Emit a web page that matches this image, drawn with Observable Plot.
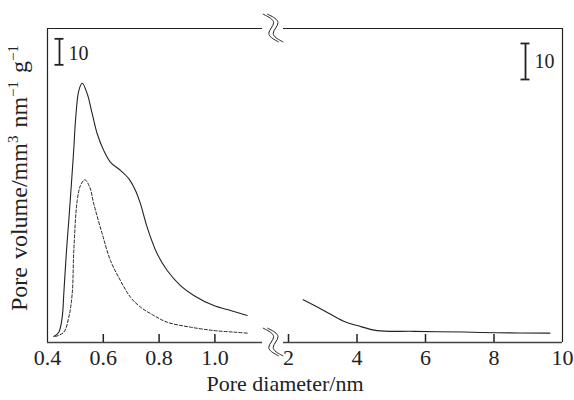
<!DOCTYPE html>
<html><head><meta charset="utf-8">
<script src="https://cdn.jsdelivr.net/npm/d3@7"></script>
<script src="https://cdn.jsdelivr.net/npm/@observablehq/plot@0.6"></script>
<style>
body{margin:0;background:#fff;}
#wrap{position:relative;width:574px;height:400px;font-family:"Liberation Serif","Times New Roman",serif;color:#222;overflow:hidden;}
#wrap svg{position:absolute;top:0;}
#wrap svg text{font-family:"Liberation Serif","Times New Roman",serif;}
.ylab{position:absolute;left:19px;top:178px;transform:translate(-50%,-50%) rotate(-90deg);white-space:nowrap;font-size:24px;line-height:1;word-spacing:2px;}
.ylab sup{font-size:15px;vertical-align:9px;line-height:0;}
.xlab{position:absolute;left:285px;top:384px;transform:translate(-50%,-50%);white-space:nowrap;font-size:22px;line-height:1;}
</style></head>
<body>
<div id="wrap">
  <div class="ylab">Pore volume/mm<sup>3</sup> nm<sup>−1</sup> g<sup>−1</sup></div>
  <div class="xlab">Pore diameter/nm</div>
</div>
<script>
// ---- data ----
const narrowTicks = [0.4, 0.6, 0.8, 1.0];
const wideTicks = [2, 4, 6, 8, 10];

const solidNarrowD = [0.4226,0.4405,0.4527,0.4584,0.4681,0.4763,0.4885,0.4943,0.5004,0.5122,0.5244,0.5423,0.5602,0.5781,0.6018,0.6258,0.6616,0.6914,0.7154,0.7333,0.7573,0.7932,0.829,0.8767,0.9244,0.996,1.0559,1.1158];
const solidNarrowV = [2.3,3.96,9.73,18.7,35.4,46.9,65.4,74.6,85.4,96.9,99.7,95.7,88.0,80.3,73.8,69.3,66.2,63.0,58.5,53.3,44.3,34.1,27.7,21.9,18.1,14.2,12.3,10.4];

const dashedNarrowD = [0.4287,0.4584,0.4763,0.4885,0.4943,0.5065,0.5183,0.5337,0.5516,0.5659,0.5961,0.6258,0.6616,0.6975,0.7333,0.781,0.829,0.9125,0.996,1.0677,1.1158];
const dashedNarrowV = [2.3,3.96,9.73,18.7,35.4,54.6,60.4,62.6,59.7,53.3,41.8,31.5,23.8,17.4,13.6,10.4,7.8,5.9,4.6,4.0,3.6];

const solidWideD = [2.43,3.03,3.61,4.01,4.59,5.66,7.12,8.09,9.63];
const solidWideV = [11.9,8.9,5.9,4.7,3.3,3.1,2.9,2.7,2.6];

const scaleBarValue = 10;

// ---- layout ----
const W = 574, H = 400, topPx = 28, bottomPx = 342, breakX = 273;
const yMaxL = 120.77, yMaxR = 87.22;
const leftXDomain = [0.4, 1.21004], leftAxisEnd = 1.1706;
const rightXDomain = [1.562, 10], rightAxisStart = 1.854;
const barL = {x: 0.443, lo: 106.8}, barR = {x: 8.92, lo: 73.06};
const ink = "#222";
const serif = "Liberation Serif";
const font = {fontFamily: serif, fontSize: "22px", color: ink, background: "transparent", overflow: "visible"};

const solidNarrow = solidNarrowD.map((d, i) => ({d, v: solidNarrowV[i]}));
const dashedNarrow = dashedNarrowD.map((d, i) => ({d, v: dashedNarrowV[i]}));
const solidWide = solidWideD.map((d, i) => ({d, v: solidWideV[i]}));

function scaleBar(b, dy) {
  const hi = b.lo + scaleBarValue;
  return [
    Plot.ruleX([b.x], {y1: b.lo, y2: hi, stroke: ink, strokeWidth: 1.8}),
    Plot.ruleY([b.lo, hi], {x1: b.x, x2: b.x, insetLeft: -4.5, insetRight: -4.5, stroke: ink, strokeWidth: 1.8}),
    Plot.text([String(scaleBarValue)], {x: b.x, y: b.lo + scaleBarValue / 2, dx: 9, dy, textAnchor: "start", lineAnchor: "middle", fontSize: 20, fontFamily: serif, fill: ink, text: d => d})
  ];
}

const left = Plot.plot({
  width: breakX, height: H, marginLeft: 47, marginRight: 0, marginTop: topPx, marginBottom: H - bottomPx,
  x: {domain: leftXDomain},
  y: {domain: [0, yMaxL], axis: null},
  style: font,
  marks: [
    Plot.ruleX([0.4], {stroke: ink, strokeWidth: 1.2}),
    Plot.ruleY([yMaxL], {x1: 0.4, x2: leftAxisEnd, stroke: ink, strokeWidth: 1.2}),
    Plot.ruleY([0], {x1: 0.4, x2: leftAxisEnd, stroke: "#444", strokeWidth: 1.6}),
    Plot.axisX({ticks: narrowTicks.slice(1), tickSize: -8, tickFormat: () => "", label: null, stroke: ink, strokeWidth: 1.5}),
    Plot.axisX({ticks: narrowTicks, tickSize: 0, tickPadding: 7, tickFormat: d3.format(".1f"), label: null, fontSize: 22, fontFamily: serif, fill: ink}),
    Plot.line(solidNarrow, {x: "d", y: "v", curve: "catmull-rom", stroke: ink, strokeWidth: 1.1}),
    Plot.line(dashedNarrow, {x: "d", y: "v", curve: "catmull-rom", stroke: ink, strokeWidth: 1, strokeDasharray: "3,2"}),
    ...scaleBar(barL, 2)
  ]
});
left.style.left = "0px";

const right = Plot.plot({
  width: W - breakX, height: H, marginLeft: 0, marginRight: 12, marginTop: topPx, marginBottom: H - bottomPx,
  x: {domain: rightXDomain},
  y: {domain: [0, yMaxR], axis: null},
  style: font,
  marks: [
    Plot.ruleX([10], {stroke: ink, strokeWidth: 1.2}),
    Plot.ruleY([yMaxR], {x1: rightAxisStart, x2: 10, stroke: ink, strokeWidth: 1.2}),
    Plot.ruleY([0], {x1: rightAxisStart, x2: 10, stroke: "#444", strokeWidth: 1.6}),
    Plot.axisX({ticks: wideTicks.slice(0, -1), tickSize: -8, tickFormat: () => "", label: null, stroke: ink, strokeWidth: 1.5}),
    Plot.axisX({ticks: wideTicks, tickSize: 0, tickPadding: 7, tickFormat: d3.format("d"), label: null, fontSize: 22, fontFamily: serif, fill: ink}),
    Plot.line(solidWide, {x: "d", y: "v", curve: "catmull-rom", stroke: ink, strokeWidth: 1.1}),
    ...scaleBar(barR, 0)
  ]
});
right.style.left = breakX + "px";

const wrap = document.getElementById("wrap");
wrap.prepend(right);
wrap.prepend(left);

// axis-break symbols (decoration)
const ov = d3.select(wrap).append("svg").attr("width", W).attr("height", H).style("left", "0px").style("pointer-events", "none");
const zig = d3.line().curve(d3.curveBasis);
const pts = [[-8,-14],[-8,-14],[8,-6],[-7,6],[8,14],[8,14]];
[topPx, bottomPx].forEach(cy => {
  [-2.2, 2.2].forEach(off => {
    ov.append("path")
      .attr("d", zig(pts.map(([px, py]) => [breakX + px + off, cy + py])))
      .attr("fill", "none").attr("stroke", ink).attr("stroke-width", 1);
  });
});
</script>
</body></html>
